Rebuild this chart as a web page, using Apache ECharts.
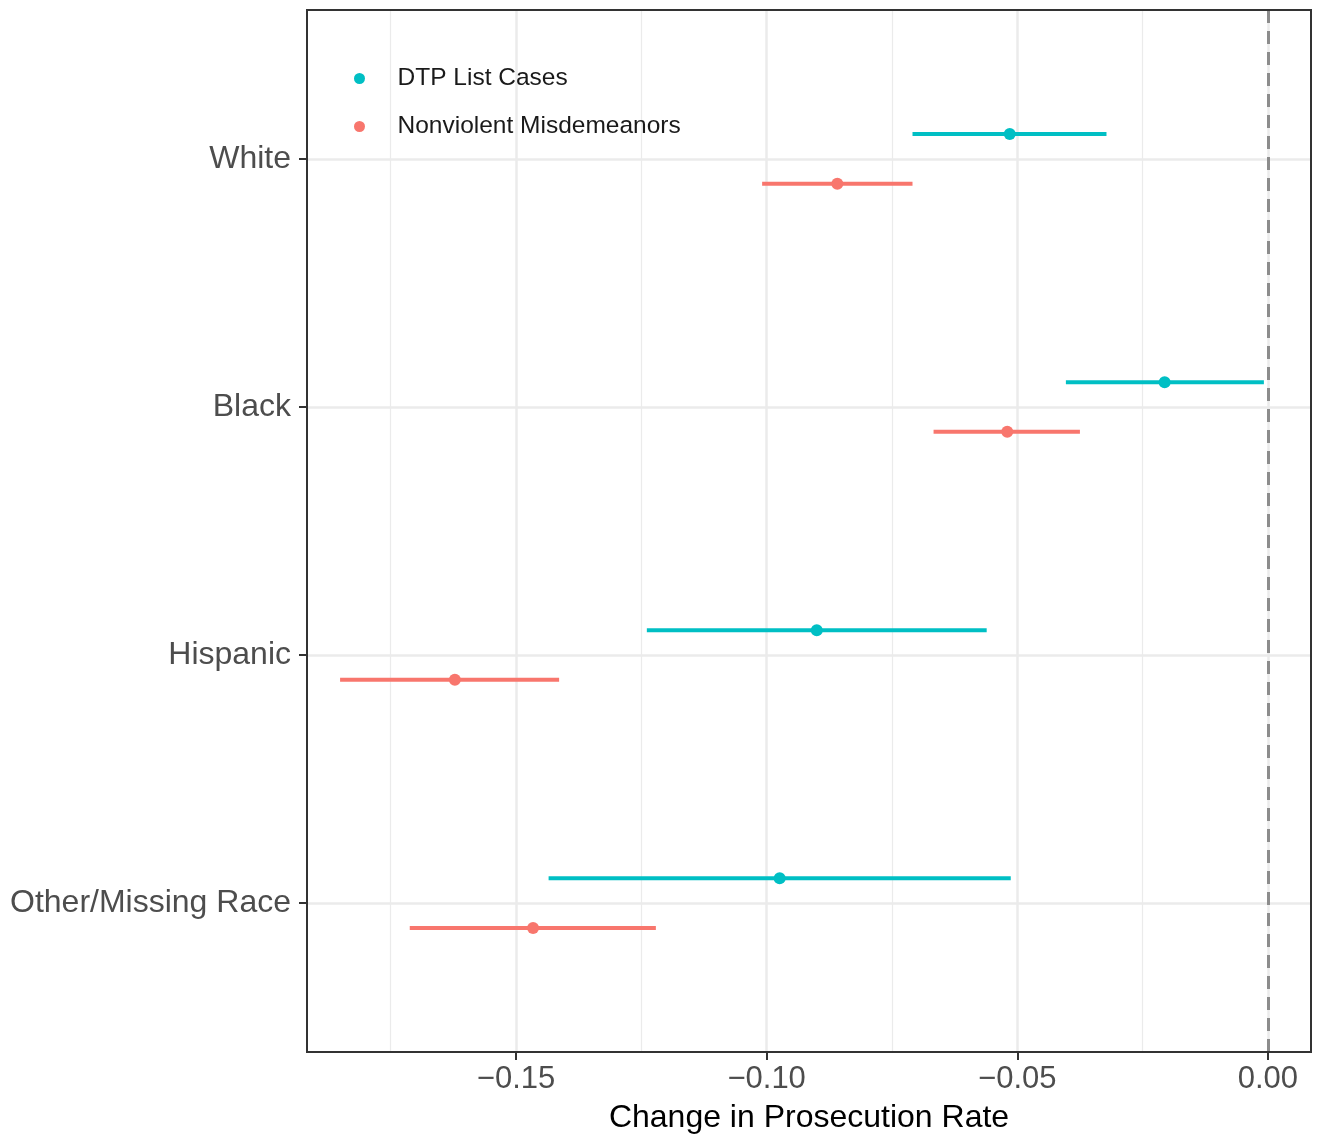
<!DOCTYPE html>
<html>
<head>
<meta charset="utf-8">
<script src="https://cdn.jsdelivr.net/npm/echarts@6/dist/echarts.min.js"></script>
<style>
html,body{margin:0;padding:0;background:#fff;}
#chart{width:1317px;height:1135px;}
</style>
</head>
<body>
<div id="chart"></div>
<script>
// ---- data ----
var categories = ['White', 'Black', 'Hispanic', 'Other/Missing Race'];
var seriesNames = ['DTP List Cases', 'Nonviolent Misdemeanors'];
var dtpEst  = [-0.0515, -0.0206, -0.0900, -0.0974];
var dtpLow  = [-0.0709, -0.0403, -0.1239, -0.1435];
var dtpHigh = [-0.0322, -0.0008, -0.0561, -0.0513];
var nvmEst  = [-0.0859, -0.0520, -0.1622, -0.1466];
var nvmLow  = [-0.1009, -0.0667, -0.1851, -0.1712];
var nvmHigh = [-0.0709, -0.0375, -0.1414, -0.1221];
var xTicks = [-0.15, -0.10, -0.05, 0.00];
var xMinorTicks = [-0.175, -0.125, -0.075, -0.025];
var yTicks = [1, 2, 3, 4];

var FONT = '"Liberation Sans", Arial, sans-serif';
var colDTP = '#00BFC4', colNVM = '#F8766D';
var dodge = 0.1;
var xMin = -0.1917, xMax = 0.0086;

function points(est, off) {
  return est.map(function (v, i) { return [v, i + 1 + off]; });
}
function bars(lo, hi, off) {
  return lo.map(function (v, i) { return [v, hi[i], i + 1 + off]; });
}
function barRenderer(color) {
  return function (params, api) {
    var y = api.value(2);
    var p1 = api.coord([api.value(0), y]);
    var p2 = api.coord([api.value(1), y]);
    return {
      type: 'line',
      shape: { x1: p1[0], y1: p1[1], x2: p2[0], y2: p2[1] },
      style: { stroke: color, lineWidth: 4 }
    };
  };
}
function fmtX(v) {
  var r = Math.round(v * 100) / 100;
  if (r === 0) return '0.00';
  return (r < 0 ? '\u2212' : '') + Math.abs(r).toFixed(2);
}

var chart = echarts.init(document.getElementById('chart'), null, { renderer: 'canvas' });
chart.setOption({
  animation: false,
  backgroundColor: '#ffffff',
  grid: {
    left: 307, right: 6, top: 10, bottom: 83,
    containLabel: false, outerBoundsMode: 'none',
    show: true, borderColor: '#333333', borderWidth: 2, backgroundColor: 'transparent', z: 5
  },
  legend: {
    orient: 'vertical',
    left: 354, top: 66, padding: 0,
    itemWidth: 66, itemHeight: 11, itemGap: 23,
    data: [
      { name: seriesNames[0], icon: 'circle' },
      { name: seriesNames[1], icon: 'circle' }
    ],
    textStyle: { fontFamily: FONT, fontSize: 24.5, color: '#1a1a1a', lineHeight: 24 }
  },
  xAxis: [
    {
      type: 'value', min: xMin, max: xMax,
      name: 'Change in Prosecution Rate', nameLocation: 'middle', nameGap: 50,
      nameTextStyle: { fontFamily: FONT, fontSize: 32, color: '#000000' },
      axisLine: { show: false, onZero: false },
      axisTick: { show: true, length: 8, customValues: xTicks, lineStyle: { color: '#333333', width: 2 } },
      axisLabel: { show: true, customValues: xTicks, formatter: fmtX, margin: 12,
                   fontFamily: FONT, fontSize: 31, color: '#4d4d4d' },
      splitLine: { show: true, lineStyle: { color: '#ebebeb', width: 2.5 } }
    },
    {
      type: 'value', min: xMin, max: xMax, position: 'bottom',
      axisLine: { show: false, onZero: false },
      axisTick: { show: false, customValues: xMinorTicks },
      axisLabel: { show: false, customValues: xMinorTicks },
      splitLine: { show: true, lineStyle: { color: '#ebebeb', width: 1.2 } }
    }
  ],
  yAxis: {
    type: 'value', min: 0.4, max: 4.6, inverse: true, position: 'left',
    axisLine: { show: false, onZero: false },
    axisTick: { show: true, length: 8, customValues: yTicks, lineStyle: { color: '#333333', width: 2 } },
    axisLabel: { show: true, customValues: yTicks, margin: 16,
                 formatter: function (v) { return categories[Math.round(v) - 1] || ''; },
                 fontFamily: FONT, fontSize: 32, color: '#4d4d4d' },
    splitLine: { show: true, lineStyle: { color: '#ebebeb', width: 2.5 } }
  },
  series: [
    {
      name: 'DTP CI', type: 'custom', xAxisIndex: 0,
      renderItem: barRenderer(colDTP),
      encode: { x: [0, 1], y: 2 },
      data: bars(dtpLow, dtpHigh, -dodge), z: 3, silent: true,
      markLine: {
        silent: true, symbol: 'none', label: { show: false },
        lineStyle: { color: '#8c8c8c', width: 3, type: [13, 8] },
        data: [{ xAxis: 0 }], z: 2
      }
    },
    {
      name: 'NVM CI', type: 'custom', xAxisIndex: 0,
      renderItem: barRenderer(colNVM),
      encode: { x: [0, 1], y: 2 },
      data: bars(nvmLow, nvmHigh, dodge), z: 3, silent: true
    },
    {
      name: seriesNames[0], type: 'scatter', xAxisIndex: 0,
      symbol: 'circle', symbolSize: 12,
      itemStyle: { color: colDTP, opacity: 1 },
      data: points(dtpEst, -dodge), z: 4
    },
    {
      name: seriesNames[1], type: 'scatter', xAxisIndex: 0,
      symbol: 'circle', symbolSize: 12,
      itemStyle: { color: colNVM, opacity: 1 },
      data: points(nvmEst, dodge), z: 4
    }
  ]
});
</script>
</body>
</html>
